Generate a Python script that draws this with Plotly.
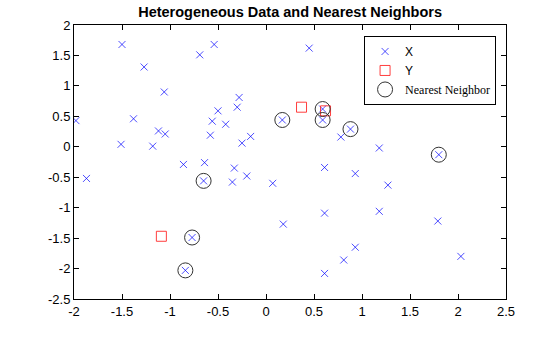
import plotly.graph_objects as go

# X points (blue crosses)
x_x = [-1.98, -1.50, -1.27, -1.06, -1.38, -1.51, -1.18, -1.12, -1.05, -0.69,
       -0.54, -0.28, -0.30, -0.50, -0.56, -0.42, -0.58, -0.16, -0.25, 0.17,
       0.45, 1.78, 0.59, 0.59, 0.88, 0.78, 1.18, 1.80, -1.87, -0.86,
       -0.64, -0.65, -0.33, -0.20, -0.35, 0.07, 0.18, -0.77, -0.84, 0.61,
       0.93, 1.27, 0.61, 1.18, 1.79, 0.93, 0.81, 0.61, 2.03]
x_y = [0.43, 1.68, 1.31, 0.90, 0.46, 0.04, 0.01, 0.26, 0.21, 1.51,
       1.68, 0.81, 0.65, 0.59, 0.42, 0.37, 0.19, 0.17, 0.06, 0.44,
       1.62, 1.10, 0.62, 0.44, 0.29, 0.16, -0.02, -0.13, -0.52, -0.29,
       -0.26, -0.56, -0.35, -0.48, -0.58, -0.60, -1.27, -1.49, -2.03, -0.34,
       -0.44, -0.63, -1.09, -1.06, -1.22, -1.65, -1.86, -2.08, -1.80]

# Y points (red squares)
y_x = [0.37, 0.62, 1.94, -1.09]
y_y = [0.65, 0.59, 0.85, -1.47]

# Nearest neighbors (circles)
nn_x = [0.17, 1.78, 0.59, 0.59, 0.88, 1.80, -0.65, -0.77, -0.84]
nn_y = [0.44, 1.10, 0.62, 0.44, 0.29, -0.13, -0.56, -1.49, -2.03]

tick_x = [-2, -1.5, -1, -0.5, 0, 0.5, 1, 1.5, 2, 2.5]
tick_x_text = ["-2", "-1.5", "-1", "-0.5", "0", "0.5", "1", "1.5", "2", "2.5"]
tick_y = [-2.5, -2, -1.5, -1, -0.5, 0, 0.5, 1, 1.5, 2]
tick_y_text = ["-2.5", "-2", "-1.5", "-1", "-0.5", "0", "0.5", "1", "1.5", "2"]

fig = go.Figure()
fig.add_trace(go.Scatter(
    x=x_x, y=x_y, mode="markers", name="X",
    marker=dict(symbol="x-thin", size=7, color="rgb(0,0,255)",
                line=dict(width=0.7, color="rgb(0,0,255)"))))
fig.add_trace(go.Scatter(
    x=y_x, y=y_y, mode="markers", name="Y",
    marker=dict(symbol="square-open", size=10, color="rgb(255,40,40)",
                line=dict(width=0.9, color="rgb(255,40,40)"))))
fig.add_trace(go.Scatter(
    x=nn_x, y=nn_y, mode="markers",
    name='<span style="font-family:\'Liberation Serif\', serif">Nearest Neighbor</span>',
    marker=dict(symbol="circle-open", size=15, color="rgb(50,50,50)",
                line=dict(width=1, color="rgb(50,50,50)"))))

axis_common = dict(showline=True, linecolor="black", linewidth=1, mirror="ticks",
                   ticks="inside", ticklen=5, tickcolor="black", tickwidth=1,
                   showgrid=False, zeroline=False,
                   tickfont=dict(family="Liberation Sans, Arial", size=13, color="black"))

fig.update_layout(
    width=560, height=337,
    margin=dict(l=73.5, r=54, t=25, b=38),
    paper_bgcolor="white", plot_bgcolor="white",
    title=dict(text="<b>Heterogeneous Data and Nearest Neighbors</b>",
               font=dict(family="Liberation Sans, Arial", size=14.5, color="black"),
               x=0.518, xanchor="center", y=1 - 12 / 337, yanchor="middle"),
    xaxis=dict(range=[-2, 2.5], tickvals=tick_x, ticktext=tick_x_text, **axis_common),
    yaxis=dict(range=[-2.5, 2], tickvals=tick_y, ticktext=tick_y_text, **axis_common),
    legend=dict(x=0.977, xanchor="right", y=0.96, yanchor="top",
                bgcolor="white", bordercolor="black", borderwidth=1,
                font=dict(family="Liberation Sans, Arial", size=12, color="black"),
                itemwidth=30, tracegroupgap=0),
    showlegend=True,
)

fig.write_html("out.html")
